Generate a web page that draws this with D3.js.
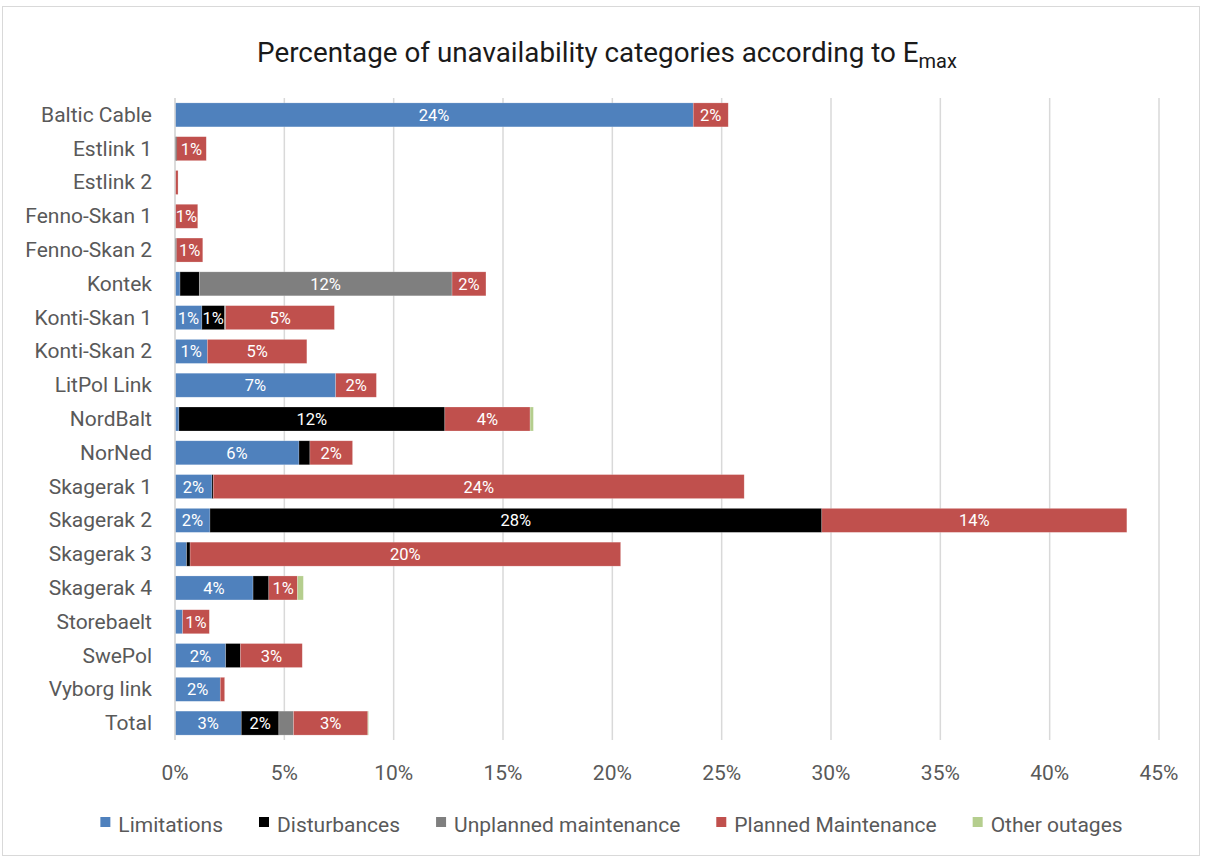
<!DOCTYPE html>
<html>
<head>
<meta charset="utf-8">
<script src="https://cdn.jsdelivr.net/npm/d3@7"></script>
<style>
  html, body { margin: 0; padding: 0; background: #fff; }
  svg { display: block; font-family: Roboto, "Liberation Sans", sans-serif; }
</style>
</head>
<body>
<svg id="chart" width="1205" height="859"></svg>
<script>
const categories = ["Baltic Cable","Estlink 1","Estlink 2","Fenno-Skan 1","Fenno-Skan 2","Kontek","Konti-Skan 1","Konti-Skan 2","LitPol Link","NordBalt","NorNed","Skagerak 1","Skagerak 2","Skagerak 3","Skagerak 4","Storebaelt","SwePol","Vyborg link","Total"];
const seriesNames = ["Limitations","Disturbances","Unplanned maintenance","Planned Maintenance","Other outages"];
const limitations  = [23.7, 0,    0,    0,    0,    0.23, 1.23, 1.48, 7.35, 0.18, 5.67, 1.69, 1.60, 0.53, 3.57, 0.35, 2.32, 2.07, 3.03];
const disturbances = [0,    0.08, 0,    0,    0.07, 0.88, 1.04, 0,    0,    12.16,0.50, 0.06, 27.98,0.16, 0.72, 0,    0.67, 0,    1.72];
const unplanned    = [0,    0,    0,    0,    0,    11.56,0.05, 0,    0,    0,    0,    0,    0,    0,    0,    0,    0,    0,    0.67];
const planned      = [1.6,  1.35, 0.14, 1.04, 1.20, 1.55, 4.97, 4.55, 1.86, 3.90, 1.95, 24.28,13.95,19.69,1.31, 1.22, 2.83, 0.20, 3.40];
const other        = [0,    0,    0,    0,    0,    0,    0,    0,    0,    0.15, 0,    0,    0,    0,    0.27, 0,    0,    0,    0.03];
const tickValues = [0,5,10,15,20,25,30,35,40,45];
const colors = ["#4F81BD","#000000","#7F7F7F","#C0504D","#B5CE8E"];

const seriesValues = [limitations, disturbances, unplanned, planned, other];
const table = categories.map((c, i) => {
  const row = { cat: c };
  seriesNames.forEach((s, k) => row[s] = seriesValues[k][i]);
  return row;
});

const svg = d3.select("#chart");
const W = 1205, H = 859;

// outer border
svg.append("rect").attr("x", 2.5).attr("y", 6.5).attr("width", W - 8).attr("height", H - 10)
  .attr("fill", "#fff").attr("stroke", "#d9d9d9").attr("stroke-width", 1);

const x = d3.scaleLinear().domain([0, 45]).range([175, 1159]);
const y = d3.scaleBand().domain(categories).range([98, 740]).paddingInner(0.29).paddingOuter(0.145);

// gridlines
svg.append("g").selectAll("line").data(tickValues).join("line")
  .attr("x1", d => x(d)).attr("x2", d => x(d))
  .attr("y1", 98).attr("y2", 740)
  .attr("stroke", "#d9d9d9").attr("stroke-width", 1.5);

// title
const title = svg.append("text").attr("x", 607).attr("y", 62).attr("text-anchor", "middle")
  .attr("font-size", 27.8).attr("fill", "#1a1a1a");
title.append("tspan").text("Percentage of unavailability categories according to E");
title.append("tspan").attr("font-size", 20).attr("dy", 6).text("max");

// stacks
const stack = d3.stack().keys(seriesNames);
const stacked = stack(table);

const gBars = svg.append("g");
stacked.forEach((layer, k) => {
  const g = gBars.append("g").attr("fill", colors[k]);
  g.selectAll("rect").data(layer.filter(d => d[1] - d[0] > 0)).join("rect")
    .attr("x", d => x(d[0]))
    .attr("y", d => y(d.data.cat))
    .attr("width", d => x(d[1]) - x(d[0]))
    .attr("height", y.bandwidth())
    .attr("stroke", "#ffffff").attr("stroke-opacity", 0.35).attr("stroke-width", 0.6);
});

// data labels
stacked.forEach((layer, k) => {
  svg.append("g").selectAll("text").data(layer.filter(d => d[1] - d[0] >= 1)).join("text")
    .attr("x", d => (x(d[0]) + x(d[1])) / 2)
    .attr("y", d => y(d.data.cat) + y.bandwidth() / 2 + 6)
    .attr("text-anchor", "middle")
    .attr("font-size", 16.5)
    .attr("fill", "#ffffff")
    .text(d => Math.round(d[1] - d[0]) + "%");
});

// y axis line
svg.append("line").attr("x1", 175).attr("x2", 175).attr("y1", 98).attr("y2", 740)
  .attr("stroke", "#d9d9d9").attr("stroke-width", 1.5);

// category labels
svg.append("g").selectAll("text").data(categories).join("text")
  .attr("x", 152).attr("y", d => y(d) + y.bandwidth() / 2 + 7)
  .attr("text-anchor", "end").attr("font-size", 21).attr("fill", "#595959")
  .text(d => d);

// x tick labels
svg.append("g").selectAll("text").data(tickValues).join("text")
  .attr("x", d => x(d)).attr("y", 780)
  .attr("text-anchor", "middle").attr("font-size", 21).attr("fill", "#595959")
  .text(d => d + "%");

// legend
const legend = svg.append("g");
const items = legend.selectAll("g").data(seriesNames).join("g");
items.append("rect").attr("width", 10).attr("height", 10).attr("y", -15)
  .attr("fill", (d, i) => colors[i]);
items.append("text").attr("x", 18).attr("font-size", 21).attr("fill", "#595959").text(d => d);
let cursor = 0;
const widths = [];
items.each(function(d) {
  const w = 18 + d3.select(this).select("text").node().getComputedTextLength();
  widths.push(w);
});
items.attr("transform", (d, i) => {
  const pos = cursor; cursor += widths[i] + (i < widths.length - 1 ? 36 : 0);
  return `translate(${pos},0)`;
});
legend.attr("transform", `translate(${611.5 - cursor / 2},832)`);
</script>
</body>
</html>
